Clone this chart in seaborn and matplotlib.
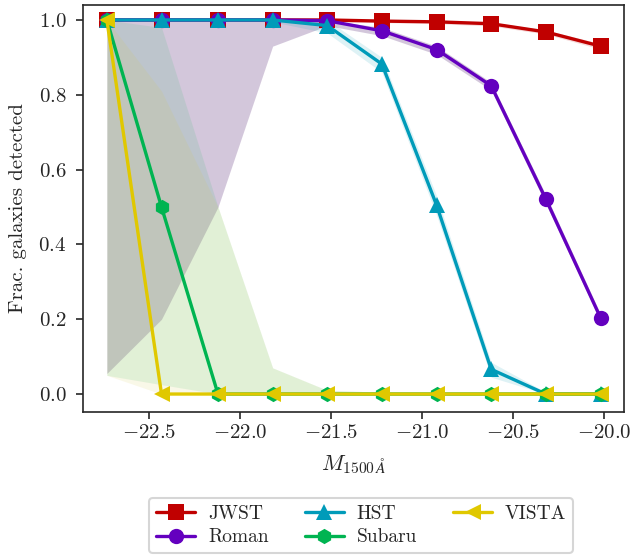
import numpy as np
import pandas as pd
import matplotlib
matplotlib.use("Agg")
import matplotlib.pyplot as plt
import seaborn as sns

# magnitude bins
mags = [-22.73, -22.43, -22.12, -21.82, -21.52, -21.22, -20.92, -20.62, -20.32, -20.02]

# detected fractions per survey
jwst = [1.0, 1.0, 1.0, 1.0, 1.0, 0.997, 0.995, 0.99, 0.968, 0.93]
roman = [1.0, 1.0, 1.0, 1.0, 0.998, 0.971, 0.921, 0.824, 0.521, 0.204]
hst = [1.0, 1.0, 1.0, 1.0, 0.985, 0.882, 0.505, 0.066, 0.0, 0.0]
subaru = [1.0, 0.5, 0.0, 0.0, 0.0, 0.0, 0.0, 0.0, 0.0, 0.0]
vista = [1.0, 0.0, 0.0, 0.0, 0.0, 0.0, 0.0, 0.0, 0.0, 0.0]

# spread (lower / upper) per survey
jwst_lo = [1.0, 1.0, 1.0, 1.0, 0.995, 0.993, 0.99, 0.984, 0.962, 0.922]
jwst_hi = [1.0, 1.0, 1.0, 1.0, 1.0, 1.0, 0.998, 0.994, 0.973, 0.937]
roman_lo = [0.055, 0.2, 0.5, 0.93, 0.985, 0.958, 0.908, 0.812, 0.508, 0.194]
roman_hi = [1.0, 1.0, 1.0, 1.0, 1.0, 0.98, 0.93, 0.833, 0.532, 0.214]
hst_lo = [1.0, 1.0, 1.0, 0.995, 0.965, 0.86, 0.478, 0.045, 0.0, 0.0]
hst_hi = [1.0, 1.0, 1.0, 1.0, 1.0, 0.9, 0.53, 0.085, 0.005, 0.005]
subaru_lo = [0.05, 0.025, 0.0, 0.0, 0.0, 0.0, 0.0, 0.0, 0.0, 0.0]
subaru_hi = [1.0, 0.98, 0.5, 0.07, 0.01, 0.005, 0.0, 0.0, 0.0, 0.0]
vista_lo = [0.05, 0.0, 0.0, 0.0, 0.0, 0.0, 0.0, 0.0, 0.0, 0.0]
vista_hi = [1.0, 0.81, 0.5, 0.07, 0.01, 0.005, 0.0, 0.0, 0.0, 0.0]

surveys = ["JWST", "Roman", "HST", "Subaru", "VISTA"]
colors = ["#c00000", "#6400bf", "#009bb9", "#00b451", "#e0c800"]
markers = ["s", "o", "^", "h", "<"]
# band shades are duller than the lines
band_colors = ["#c00000", "#532373", "#009bb9", "#2dbe69", "#d8c94e"]
band_alpha = [0.15, 0.25, 0.13, 0.13, 0.13]

sns.set_style("ticks")
plt.rcParams["font.family"] = "serif"
plt.rcParams["font.serif"] = ["cmr10", "DejaVu Serif"]
plt.rcParams["mathtext.fontset"] = "cm"
plt.rcParams["axes.formatter.use_mathtext"] = True
plt.rcParams["axes.linewidth"] = 1.2

fig = plt.figure(figsize=(6.35, 5.56), dpi=100)
ax = fig.add_axes([0.131, 0.259, 0.852, 0.732])

vals = [jwst, roman, hst, subaru, vista]
los = [jwst_lo, roman_lo, hst_lo, subaru_lo, vista_lo]
his = [jwst_hi, roman_hi, hst_hi, subaru_hi, vista_hi]

# shaded spreads first
for lo, hi, c, a in zip(los, his, band_colors, band_alpha):
    ax.fill_between(mags, lo, hi, color=c, alpha=a, linewidth=0)

df = pd.DataFrame({
    "mag": np.tile(mags, len(surveys)),
    "frac": np.concatenate(vals),
    "survey": np.repeat(surveys, len(mags)),
})

sns.lineplot(data=df, x="mag", y="frac", hue="survey", style="survey",
             palette=dict(zip(surveys, colors)),
             markers=dict(zip(surveys, markers)), dashes=False,
             markersize=11, linewidth=2.4, markeredgewidth=0,
             ax=ax, legend=False)

ax.set_xlim(-22.86, -19.89)
ax.set_ylim(-0.048, 1.04)
ax.set_xticks([-22.5, -22.0, -21.5, -21.0, -20.5, -20.0])
ax.set_yticks([0.0, 0.2, 0.4, 0.6, 0.8, 1.0])
ax.tick_params(labelsize=15, length=5, width=1.2)
ax.tick_params(axis="y", pad=7)
ax.set_xlabel(r"$M_{1500\,\AA}$", fontsize=16, labelpad=8)
ax.set_ylabel("Frac. galaxies detected", fontsize=15, labelpad=8)

handles = [plt.Line2D([], [], color=c, marker=m, markersize=11, linewidth=2.4,
                      markeredgewidth=0) for c, m in zip(colors, markers)]
leg = fig.legend(handles, surveys, loc="upper center", bbox_to_anchor=(0.569, 0.122),
                 ncol=3, fontsize=14, frameon=True, fancybox=True, edgecolor="#cccccc",
                 handlelength=2.0, handletextpad=0.67, columnspacing=1.85,
                 borderpad=0.35, labelspacing=0.3)
leg.get_frame().set_linewidth(1.5)

fig.savefig("out.png", dpi=100)
